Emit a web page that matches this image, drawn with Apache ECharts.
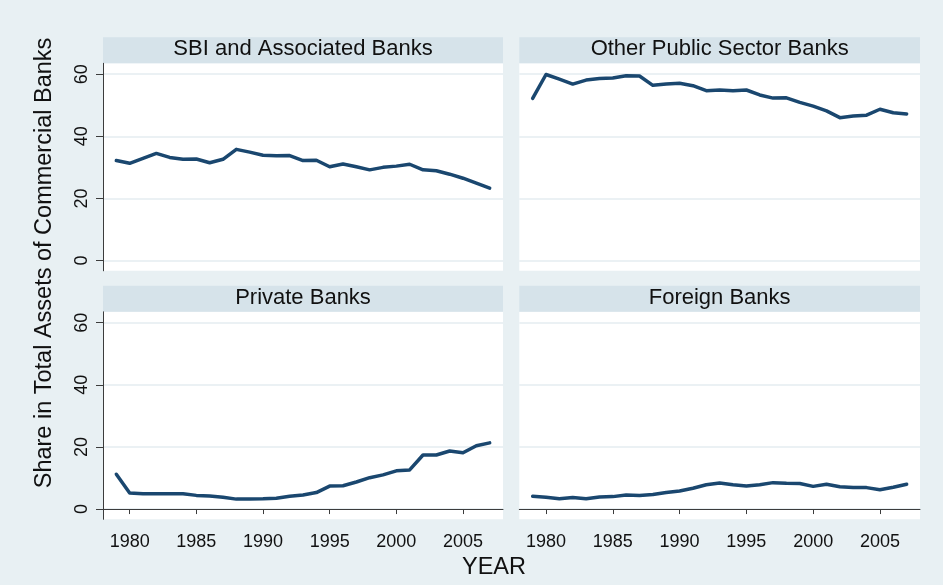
<!DOCTYPE html>
<html>
<head>
<meta charset="utf-8">
<script src="https://cdn.jsdelivr.net/npm/echarts@6/dist/echarts.min.js"></script>
<style>
  html, body { margin: 0; padding: 0; background: #e8f0f3; }
  #chart { width: 943px; height: 585px; }
</style>
</head>
<body>
<div id="chart"></div>
<script>
// share in total assets of commercial banks (%)
const years = [1979, 1980, 1981, 1982, 1983, 1984, 1985, 1986, 1987, 1988, 1989, 1990, 1991, 1992,
  1993, 1994, 1995, 1996, 1997, 1998, 1999, 2000, 2001, 2002, 2003, 2004, 2005, 2006, 2007]

const sbiBanks = [32.2, 31.3, 32.9, 34.5, 33.2, 32.6, 32.7, 31.5, 32.6, 35.8, 34.9, 33.9, 33.7, 33.8,
  32.2, 32.3, 30.2, 31.1, 30.2, 29.2, 30.0, 30.4, 31.0, 29.2, 28.9, 27.8, 26.5, 24.9, 23.3]
const otherPublicBanks = [52.2, 59.9, 58.4, 56.8, 58.1, 58.6, 58.8, 59.5, 59.4, 56.4, 56.8, 57.1, 56.3, 54.7,
  54.9, 54.7, 54.9, 53.3, 52.3, 52.4, 50.9, 49.7, 48.2, 46.0, 46.5, 46.8, 48.7, 47.6, 47.2]
const privateBanks = [11.2, 5.2, 4.9, 4.9, 4.9, 4.9, 4.4, 4.2, 3.8, 3.2, 3.2, 3.3, 3.5, 4.1,
  4.5, 5.3, 7.4, 7.5, 8.7, 10.1, 11.0, 12.3, 12.6, 17.4, 17.4, 18.7, 18.1, 20.4, 21.3]
const foreignBanks = [4.1, 3.8, 3.3, 3.7, 3.3, 3.9, 4.0, 4.5, 4.4, 4.7, 5.3, 5.8, 6.7, 7.8,
  8.4, 7.8, 7.4, 7.8, 8.5, 8.3, 8.2, 7.3, 8.0, 7.2, 6.9, 6.9, 6.2, 7.0, 8.0]

const panelTitles = ['SBI and Associated Banks', 'Other Public Sector Banks', 'Private Banks', 'Foreign Banks']
const yTicks = [0, 20, 40, 60]
const xTicks = [1980, 1985, 1990, 1995, 2000, 2005]

const chart = echarts.init(document.getElementById('chart'))

const FONT = 'Liberation Sans, Arial, sans-serif'
const LINE_COLOR = '#1a476f'
const AXIS_COLOR = '#3c3c3c'
const GRID_LINE = '#e4edf0'
const STRIP_COLOR = '#d6e3ea'

// panel boxes: left, top, width, height
const panels = [
  { left: 103, top: 63.3, width: 400, height: 207.5 },
  { left: 519.3, top: 63.3, width: 400.7, height: 207.5 },
  { left: 103, top: 311.8, width: 400, height: 207.5 },
  { left: 519.3, top: 311.8, width: 400.7, height: 207.5 }
]
const panelData = [sbiBanks, otherPublicBanks, privateBanks, foreignBanks]

const grids = panels.map(p => ({
  left: p.left, top: p.top, width: p.width, height: p.height,
  show: true, backgroundColor: '#ffffff', borderWidth: 0
}))

const xAxes = panels.map((p, i) => {
  const bottom = i >= 2
  return {
    type: 'value', gridIndex: i, min: 1978, max: 2008,
    axisLine: { show: bottom, lineStyle: { color: AXIS_COLOR, width: 1 } },
    axisTick: { show: bottom, length: 5, customValues: xTicks, lineStyle: { color: AXIS_COLOR } },
    axisLabel: {
      show: bottom, customValues: xTicks, margin: 14,
      formatter: v => String(v),
      fontFamily: FONT, fontSize: 18, color: '#111'
    },
    splitLine: { show: false }
  }
})

const yAxes = panels.map((p, i) => {
  const left = i % 2 === 0
  return {
    type: 'value', gridIndex: i, min: -3.3, max: 63.5,
    axisLine: { show: left, onZero: false, lineStyle: { color: AXIS_COLOR, width: 1 } },
    axisTick: { show: left, length: 7, customValues: yTicks, lineStyle: { color: AXIS_COLOR } },
    axisLabel: {
      show: left, customValues: yTicks, rotate: 90, margin: 12,
      fontFamily: FONT, fontSize: 18, color: '#111'
    },
    splitLine: { show: true, customValues: yTicks, lineStyle: { color: GRID_LINE, width: 1.5 } }
  }
})

const series = panelData.map((vals, i) => ({
  type: 'line', xAxisIndex: i, yAxisIndex: i,
  data: years.map((y, k) => [y, vals[k]]),
  showSymbol: false, symbol: 'none',
  lineStyle: { color: LINE_COLOR, width: 3.5, cap: 'round', join: 'round' },
  silent: true, animation: false
}))

const strips = panels.map((p, i) => ({
  type: 'group',
  children: [
    { type: 'rect', shape: { x: p.left, y: p.top - 26, width: p.width, height: 26 },
      style: { fill: STRIP_COLOR } },
    { type: 'text', x: p.left + p.width / 2, y: p.top - 14,
      style: { text: panelTitles[i], font: '22px ' + FONT, fill: '#111',
        textAlign: 'center', textVerticalAlign: 'middle' } }
  ]
}))

chart.setOption({
  backgroundColor: '#e8f0f3',
  animation: false,
  grid: grids,
  xAxis: xAxes,
  yAxis: yAxes,
  series: series,
  graphic: strips.concat([
    { type: 'text', x: 45, y: 263, rotation: Math.PI / 2,
      style: { text: 'Share in Total Assets of Commercial Banks', font: '23.5px ' + FONT, fill: '#111',
        textAlign: 'center', textVerticalAlign: 'middle' } },
    { type: 'text', x: 494, y: 568,
      style: { text: 'YEAR', font: '23.5px ' + FONT, fill: '#111',
        textAlign: 'center', textVerticalAlign: 'middle' } }
  ])
})
</script>
</body>
</html>
